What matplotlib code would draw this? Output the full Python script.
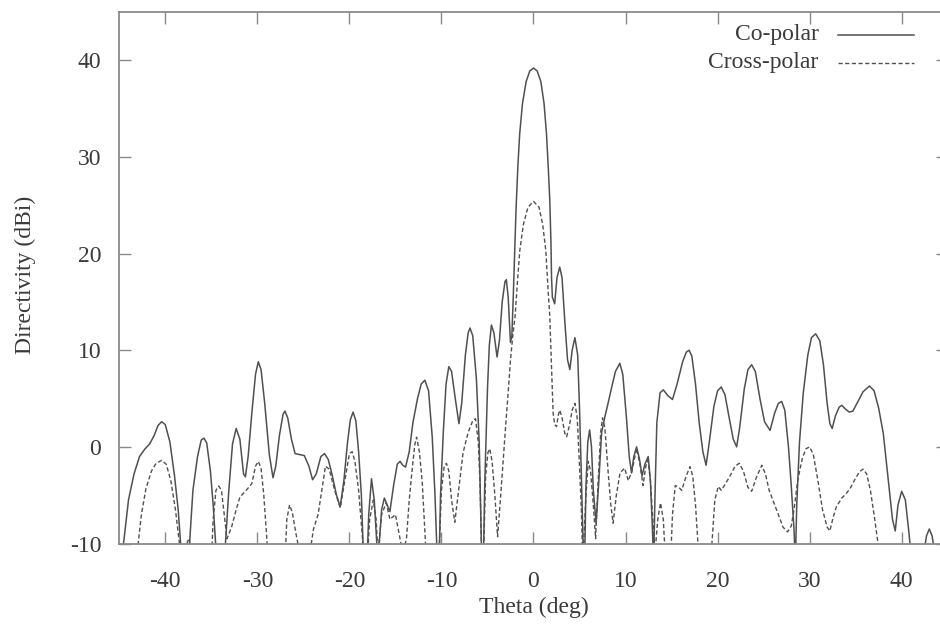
import matplotlib
matplotlib.use("Agg")
import matplotlib.pyplot as plt

# far-field cut, values
co_theta = [
    -45.0, -44.6, -44.0, -43.4, -42.8, -42.2, -41.7, -41.2, -40.8, -40.4, -40.0, -39.5, -39.0, -38.6, -38.3, -38.0,
    -37.4, -37.0, -36.5, -36.1, -35.8, -35.5, -35.1, -34.8, -34.5, -34.2,
    -33.5, -33.1, -32.7, -32.3, -31.9, -31.5, -31.3, -31.0, -30.6, -30.2, -29.9, -29.6, -29.2, -28.7, -28.3, -28.0,
    -27.6, -27.2, -27.0, -26.7, -26.3, -25.9, -25.4, -24.9, -24.4, -24.0, -23.6, -23.1, -22.7, -22.3, -21.9, -21.4,
    -21.0, -20.6, -20.2, -19.9, -19.6, -19.3, -19.0, -18.7, -18.5, -18.2,
    -17.9, -17.6, -17.3, -16.9, -16.5, -16.2, -15.9, -15.6, -15.2, -14.8, -14.5, -14.2, -13.9, -13.5, -13.1, -12.6,
    -12.2, -11.8, -11.4, -11.0, -10.7, -10.5, -10.3,
    -10.1, -9.8, -9.5, -9.2, -8.9, -8.5, -8.1, -7.8, -7.4, -7.1, -6.9, -6.6, -6.2, -5.9, -5.65, -5.5,
    -5.3, -5.0, -4.8, -4.57, -4.3, -3.96, -3.7, -3.4, -3.1, -2.95, -2.75, -2.5, -2.35, -2.2, -2.05, -1.9, -1.7,
    -1.5, -1.2, -0.8, -0.4, 0.0, 0.4, 0.8, 1.15, 1.41, 1.6, 1.77, 1.9, 1.96, 2.05, 2.3, 2.55, 2.85, 3.1, 3.4,
    3.7, 3.95, 4.2, 4.5, 4.8, 5.0, 5.2, 5.4, 5.5,
    5.7, 5.9, 6.1, 6.3, 6.5, 6.8, 7.1, 7.4, 7.75, 8.1, 8.5, 8.9, 9.38, 9.7, 10.1, 10.4, 10.65, 10.9, 11.2, 11.5,
    11.8, 12.1, 12.46, 12.7, 12.9, 13.05, 13.2, 13.4, 13.75, 14.1, 14.6, 15.1, 15.6, 16.2, 16.6, 16.9, 17.2, 17.6,
    18.0, 18.4, 18.75, 19.1, 19.6, 20.0, 20.4, 20.8, 21.3, 21.7, 22.07, 22.4, 22.9, 23.3, 23.7, 24.1, 24.6, 25.1,
    25.7, 26.2, 26.6, 26.96, 27.3, 27.7, 28.0, 28.3, 28.45, 28.6, 28.9, 29.3, 29.8, 30.2, 30.65, 31.1, 31.5, 31.9,
    32.2, 32.45, 32.8, 33.2, 33.5, 33.9, 34.3, 34.7, 35.2, 35.8, 36.5, 37.0, 37.5, 38.0, 38.5, 39.0, 39.3, 39.6,
    40.0, 40.4, 40.8, 41.1, 41.6, 42.4, 42.7, 43.0, 43.3, 43.6, 44.2, 45.0,
]
co_db = [
    -20.0, -10.5, -5.5, -2.8, -1.0, -0.2, 0.3, 1.2, 2.2, 2.6, 2.3, 0.5, -3.0, -6.5, -10.5, -16.0,
    -10.5, -4.5, -1.0, 0.7, 0.9, 0.4, -2.5, -6.0, -10.5, -15.0,
    -10.5, -4.5, 0.3, 1.9, 0.8, -2.8, -3.1, -1.0, 3.5, 7.5, 8.8, 8.0, 4.5, -0.8, -3.2, -2.0,
    1.2, 3.4, 3.7, 3.0, 0.8, -0.7, -0.8, -0.9, -2.0, -3.4, -2.8, -1.0, -0.7, -1.3, -2.8, -5.0,
    -6.2, -3.5, 0.5, 2.8, 3.6, 2.7, -0.5, -5.0, -10.5, -15.0,
    -7.0, -3.3, -5.5, -12.0, -6.5, -5.3, -6.0, -6.7, -4.0, -1.8, -1.5, -1.9, -2.1, -0.5, 2.5, 5.0,
    6.5, 6.9, 5.8, 1.0, -5.0, -10.5, -14.0,
    -5.0, 1.5, 6.5, 8.3, 7.8, 5.0, 2.4, 4.5, 9.5, 11.8, 12.3, 11.5, 7.0, 0.5, -10.5, -15.0,
    -4.0, 6.0, 10.5, 12.6, 11.8, 9.3, 11.0, 15.0, 17.1, 17.3, 15.5, 10.8, 11.5, 15.5, 20.0, 24.5, 29.0,
    32.4, 35.5, 37.8, 38.9, 39.2, 38.9, 37.8, 35.5, 32.4, 29.0, 25.5, 21.0, 17.5, 15.5, 14.8, 17.5, 18.6, 17.5, 13.0,
    9.0, 8.0, 10.0, 11.3, 9.5, 4.0, -3.0, -10.5, -15.0,
    -4.0, 0.5, 1.75, 0.0, -4.5, -7.9, -3.5, 1.5, 3.1, 4.5, 6.2, 7.8, 8.65, 7.5, 3.0, -1.0, -2.7, -1.0, 0.0, -1.2,
    -3.0, -1.8, -1.0, -3.5, -8.0, -12.0, -5.0, 2.5, 5.6, 5.9, 5.3, 4.9, 6.5, 8.8, 9.8, 10.0, 9.4, 6.5,
    2.5, -0.5, -1.9, 0.5, 4.2, 5.8, 6.2, 5.4, 2.8, 0.8, 0.0, 2.0, 6.0, 8.0, 8.5, 7.8, 5.0, 2.6,
    1.7, 3.5, 4.5, 4.7, 3.8, 0.0, -4.0, -8.5, -12.0, -6.0, 0.5, 5.5, 9.5, 11.3, 11.7, 11.0, 8.5, 4.5,
    2.4, 1.9, 3.2, 4.1, 4.3, 3.9, 3.6, 3.7, 4.6, 5.7, 6.3, 5.8, 4.0, 1.4, -3.0, -7.5, -8.7, -6.0,
    -4.6, -5.5, -9.0, -12.0, -18.0, -11.0, -9.2, -8.5, -9.2, -11.0, -16.0, -20.0,
]

cx_theta = [
    -45.0, -43.0, -42.6, -42.1, -41.5, -41.0, -40.4, -39.9, -39.4, -38.9, -38.4, -38.0, -37.6, -37.4, -37.2, -36.5,
    -35.1, -34.8, -34.5, -34.2, -33.9, -33.6, -33.3, -32.8, -32.3, -31.9, -31.3, -30.6, -30.2, -29.9, -29.6, -29.3,
    -28.9, -28.5, -27.0, -26.8, -26.5, -26.2, -25.8, -25.4, -25.0, -24.3, -23.9, -23.4, -23.0, -22.6, -22.2, -21.6,
    -21.0, -20.5, -20.0, -19.7, -19.4, -19.0, -18.7, -18.5, -18.2, -17.8, -17.4, -17.1, -16.9, -16.5, -16.0, -15.6,
    -15.0, -14.6, -14.2, -13.8, -13.5, -13.2, -12.9, -12.7, -12.4, -12.1, -11.9, -11.7, -11.4, -10.3, -10.0, -9.7,
    -9.46, -9.2, -8.9, -8.55, -8.2, -7.65, -7.1, -6.56, -6.3, -6.0, -5.8, -5.65, -5.5, -5.2, -4.95, -4.75, -4.5,
    -4.2, -3.9, -3.6, -3.3, -3.0, -2.76, -2.5, -2.25, -2.0, -1.75, -1.49, -1.1, -0.6, 0.0, 0.6, 1.0, 1.34, 1.6,
    1.77, 1.9, 2.0, 2.13, 2.3, 2.5, 2.7, 2.86, 3.1, 3.4, 3.6, 3.9, 4.2, 4.5, 4.75, 5.0, 5.2, 5.35,
    5.7, 5.95, 6.2, 6.5, 6.75, 7.0, 7.3, 7.5, 7.75, 8.1, 8.4, 8.65, 9.0, 9.4, 9.9, 10.3, 10.7, 11.2, 11.6, 11.9,
    12.2, 12.45, 12.7, 13.0, 13.2, 13.5, 13.8, 14.1, 14.3, 14.8, 15.1, 15.4, 15.8, 16.1, 16.6, 17.0, 17.3, 17.6,
    17.9, 18.5, 19.35, 19.7, 20.07, 20.4, 20.8, 21.3, 21.9, 22.35, 22.8, 23.3, 23.7, 24.2, 24.8, 25.2, 25.6, 26.0,
    26.6, 27.1, 27.6, 28.0, 28.3, 28.7, 29.2, 29.6, 30.0, 30.4, 30.9, 31.4, 31.9, 32.2, 32.5, 32.9, 33.5, 34.0,
    34.4, 34.9, 35.4, 35.8, 36.2, 36.6, 37.0, 37.5, 38.0, 39.0, 45.0,
]
cx_db = [
    -25.0, -10.5, -7.0, -4.3, -2.5, -1.7, -1.4, -1.8, -3.5, -6.5, -10.5, -16.0, -9.8, -9.5, -11.0, -20.0,
    -14.0, -7.5, -4.5, -4.05, -4.5, -7.0, -9.5, -8.3, -6.5, -5.2, -4.6, -3.8, -2.0, -1.5, -2.2, -5.0,
    -10.5, -18.0, -12.0, -7.5, -6.0, -6.8, -9.0, -11.0, -16.0, -11.0, -8.5, -7.0, -4.5, -2.0, -2.3, -4.5,
    -6.3, -3.5, -0.7, -0.5, -1.5, -4.5, -8.0, -10.5, -14.0, -7.5, -5.5, -7.5, -11.0, -7.0, -5.8, -7.5,
    -7.0, -9.0, -11.0, -9.5, -5.5, -2.5, 0.2, 1.0, -0.5, -3.5, -7.0, -10.5, -15.0, -12.0, -4.5, -2.0,
    -1.7, -2.5, -5.5, -7.8, -5.0, -0.6, 1.5, 2.8, 2.9, 0.5, -4.0, -10.5, -14.0, -3.0, -0.6, -0.2, -1.5,
    -5.0, -9.3, -5.5, -1.5, 2.5, 5.5, 9.0, 11.5, 13.5, 17.0, 20.3, 23.0, 24.8, 25.4, 24.8, 23.0, 20.3, 16.0,
    13.5, 10.0, 7.5, 3.5, 2.3, 2.1, 3.3, 3.8, 3.0, 1.4, 1.05, 2.2, 3.8, 4.5, 3.0, -2.0, -6.5, -12.0,
    -5.0, -1.5, -2.5, -6.0, -9.5, -4.0, 1.5, 3.0, 2.0, -2.5, -6.0, -7.9, -5.0, -2.7, -2.2, -3.5, -2.5, -0.15, -2.0, -4.0,
    -2.0, -1.4, -3.5, -8.0, -11.0, -7.5, -5.8, -7.5, -11.0, -14.0, -7.0, -4.0, -4.2, -4.5, -3.0, -2.05, -3.0, -6.0,
    -10.5, -18.0, -10.5, -5.5, -4.1, -4.5, -3.9, -3.1, -2.0, -1.7, -2.5, -4.2, -4.6, -3.2, -1.9, -2.8, -4.5, -5.5,
    -7.0, -8.3, -8.8, -8.2, -6.5, -3.5, -1.2, -0.2, 0.0, -0.8, -3.5, -6.5, -8.3, -8.7, -7.5, -6.2, -5.3, -4.8,
    -4.3, -3.4, -2.6, -2.3, -2.8, -4.5, -7.0, -10.5, -16.0, -22.0, -25.0,
]

x_ticks = [-40, -30, -20, -10, 0, 10, 20, 30, 40]
y_ticks = [-10, 0, 10, 20, 30, 40]
series_labels = ["Co-polar", "Cross-polar"]

plt.rcParams["font.family"] = ["Liberation Serif", "DejaVu Serif"]
plt.rcParams["axes.unicode_minus"] = False

LINE = "#505050"
FRAME = "#8a8a8a"
TXT = "#3a3a3a"
DASH = (0, (3, 1.8))

fig = plt.figure(figsize=(9.4, 6.3), dpi=100)
# right frame edge sits just past the image border, as in the reference crop
ax = fig.add_axes([0.1269, 0.1373, 0.8813, 0.8437])

ax.plot(co_theta, co_db, color=LINE, lw=1.1, solid_joinstyle="round")
ax.plot(cx_theta, cx_db, color=LINE, lw=1.0, linestyle=DASH)

ax.set_xlim(-45, 45)
ax.set_ylim(-10, 45)
ax.set_xticks(x_ticks)
ax.set_yticks(y_ticks)
ax.tick_params(direction="in", length=8.5, width=1.0, color=FRAME, top=True, right=True,
               labelsize=17, labelcolor=TXT)
ax.tick_params(axis="y", pad=13)
ax.tick_params(axis="x", pad=20)
for s in ax.spines.values():
    s.set_color(FRAME)
    s.set_linewidth(1.3)

ax.set_xlabel("Theta (deg)", fontsize=17, color=TXT)
ax.set_ylabel("Directivity (dBi)", fontsize=17, color=TXT)
ax.xaxis.set_label_coords(0.5, -0.1)
ax.yaxis.set_label_coords(-0.101, 0.505)

# gnuplot-style key: right-aligned text, sample line to its right
key_y = [0.9567, 0.904]
key_styles = [dict(lw=1.1), dict(lw=1.0, linestyle=DASH)]
for lab, ky, st in zip(series_labels, key_y, key_styles):
    ax.text(0.844, ky, lab, transform=ax.transAxes, ha="right", va="center", fontsize=17, color=TXT)
    ax.plot([0.8676, 0.959], [ky, ky], transform=ax.transAxes, color=LINE, clip_on=False, **st)

fig.savefig("out.png", dpi=100)
